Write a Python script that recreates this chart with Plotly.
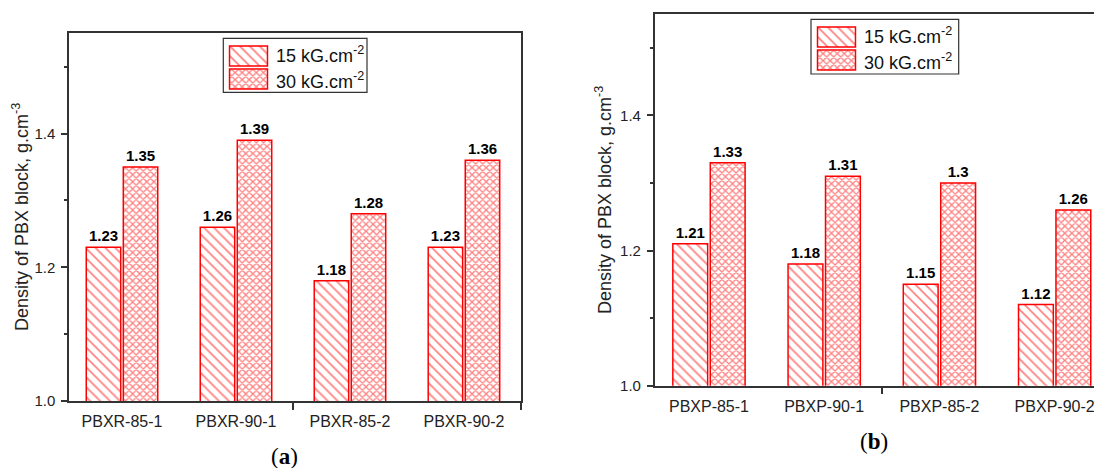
import plotly.graph_objects as go

# ---------------- data ----------------
categories_a = ["PBXR-85-1", "PBXR-90-1", "PBXR-85-2", "PBXR-90-2"]
density_15_a = [1.23, 1.26, 1.18, 1.23]
density_30_a = [1.35, 1.39, 1.28, 1.36]

categories_b = ["PBXP-85-1", "PBXP-90-1", "PBXP-85-2", "PBXP-90-2"]
density_15_b = [1.21, 1.18, 1.15, 1.12]
density_30_b = [1.33, 1.31, 1.30, 1.26]

series_names = ["15 kG.cm<sup>-2</sup>", "30 kG.cm<sup>-2</sup>"]
y_tick_values = [1.0, 1.2, 1.4]
y_title = "Density of PBX block, g.cm<sup>-3</sup>"
panel_captions = ["(<b>a</b>)", "(<b>b</b>)"]

# ---------------- styling ----------------
PAGE_OFF = 8                     # default page margin of the html body
W, H = 1102 - PAGE_OFF, 468 - PAGE_OFF
RED = "#FF0000"
AX = "#333333"
TXT = "#222222"
SANS = "Liberation Sans, Arial, sans-serif"
SERIF = "Liberation Serif, Times New Roman, serif"
patterns = [dict(shape="\\", size=7, solidity=0.24, fgcolor=RED, bgcolor="white"),
            dict(shape="x", size=5, solidity=0.45, fgcolor=RED, bgcolor="white")]


def px_x(x):
    return min(1.0, (x - PAGE_OFF) / W)


def px_y(y):
    return 1 - (y - PAGE_OFF) / H


fig = go.Figure()

panels = [
    dict(cats=categories_a, vals=[density_15_a, density_30_a], xa="x", ya="y"),
    dict(cats=categories_b, vals=[density_15_b, density_30_b], xa="x2", ya="y2"),
]

for p in panels:
    pos = list(range(1, len(p["cats"]) + 1))
    for s, vals in enumerate(p["vals"]):
        fig.add_trace(go.Bar(
            x=pos, y=vals, name=series_names[s], showlegend=False,
            xaxis=p["xa"], yaxis=p["ya"],
            marker=dict(color="white", line=dict(color=RED, width=1.5),
                        pattern=patterns[s]),
            texttemplate="%{y:.2~f}", textposition="outside", cliponaxis=False,
            constraintext="none",
            textfont=dict(family=SANS, size=15, color="black", weight="bold"),
        ))

# legend swatches (drawn as bars on small auxiliary axes)
n_ser = len(series_names)
for xa, ya in [("x3", "y3"), ("x4", "y4")]:
    fig.add_trace(go.Bar(
        x=[1] * n_ser, y=list(range(n_ser)), orientation="h", width=0.86,
        xaxis=xa, yaxis=ya, showlegend=False, hoverinfo="skip",
        marker=dict(color="white", line=dict(color=RED, width=1.5),
                    pattern=dict(shape=[pt["shape"] for pt in patterns],
                                 size=[pt["size"] for pt in patterns],
                                 solidity=[pt["solidity"] for pt in patterns],
                                 fgcolor=RED, bgcolor="white")),
    ))

common_y = dict(
    range=[1.0, 1.55], tickmode="array", tickvals=y_tick_values, tickformat=".1f",
    ticks="outside", ticklen=6, tickwidth=1.5, tickcolor=AX,
    minor=dict(ticks="outside", ticklen=3, tickwidth=1.5, tickcolor=AX,
               tick0=1.0, dtick=0.1),
    showline=True, linecolor=AX, linewidth=1.5, showgrid=False, zeroline=False,
    tickfont=dict(family=SANS, size=15, color=TXT), ticklabelstandoff=3,
    automargin=False,
)


def common_x(cats, rng):
    return dict(
        range=rng, tickmode="array", tickvals=list(range(1, len(cats) + 1)),
        ticktext=cats, ticks="outside", ticklen=5, tickcolor="rgba(0,0,0,0)",
        minor=dict(ticks="outside", ticklen=7, tickwidth=1.5, tickcolor=AX,
                   tick0=0.5, dtick=2),
        showline=True, linecolor=AX, linewidth=1.5, mirror=True,
        showgrid=False, zeroline=False, automargin=False,
        tickfont=dict(family=SANS, size=16, color=TXT),
    )


aux_common = dict(visible=False, fixedrange=True, automargin=False,
                  showticklabels=False, ticks="", showgrid=False, zeroline=False,
                  showline=False)
aux_x = dict(range=[-0.04, 1.04], **aux_common)
aux_y = dict(range=[1.5, -0.5], **aux_common)

fig.update_layout(
    width=W, height=H, margin=dict(l=0, r=0, t=0, b=0, pad=0, autoexpand=False),
    paper_bgcolor="white", plot_bgcolor="white",
    barmode="group", bargap=0.35, bargroupgap=0.07,
    showlegend=False,
    xaxis=dict(domain=[px_x(69), px_x(521)], anchor="y",
               **common_x(categories_a, [0.535, 4.5005])),
    yaxis=dict(domain=[px_y(401), px_y(33.3)], anchor="x", mirror=True, **common_y),
    xaxis2=dict(domain=[px_x(654.7), 1.0], anchor="y2",
                **common_x(categories_b, [0.529, 4.411])),
    yaxis2=dict(domain=[px_y(385.7), px_y(14)], anchor="x2", mirror=False, **common_y),
    xaxis3=dict(domain=[px_x(228), px_x(269)], anchor="y3", **aux_x),
    yaxis3=dict(domain=[px_y(90.7), px_y(44.3)], anchor="x3", **aux_y),
    xaxis4=dict(domain=[px_x(816), px_x(857)], anchor="y4", **aux_x),
    yaxis4=dict(domain=[px_y(71.7), px_y(25.3)], anchor="x4", **aux_y),
)

# legend frames
for (x0, x1, y0, y1) in [(223.3, 367, 38.3, 92.3), (811, 958.7, 19.3, 74)]:
    fig.add_shape(type="rect", xref="paper", yref="paper",
                  x0=px_x(x0), x1=px_x(x1), y0=px_y(y1), y1=px_y(y0),
                  line=dict(color=AX, width=1.2), fillcolor="rgba(0,0,0,0)", layer="below")

# legend labels
for xl, ys in [(274, (54.5, 80.7)), (862, (35.5, 61.7))]:
    for name, yy in zip(series_names, ys):
        fig.add_annotation(text=name, xref="paper", yref="paper",
                           x=px_x(xl), y=px_y(yy), xanchor="left", yanchor="middle",
                           showarrow=False, font=dict(family=SANS, size=18, color="#111111"))

# y-axis titles
for xc, yc in [(21, 217), (603, 200)]:
    fig.add_annotation(text=y_title, xref="paper", yref="paper",
                       x=px_x(xc), y=px_y(yc), xanchor="center", yanchor="middle",
                       textangle=-90, showarrow=False,
                       font=dict(family=SANS, size=18, color=TXT))

# panel captions
for cap, xc, yc in zip(panel_captions, (285, 874), (456, 441)):
    fig.add_annotation(text=cap, xref="paper", yref="paper",
                       x=px_x(xc), y=px_y(yc), xanchor="center", yanchor="middle",
                       showarrow=False, font=dict(family=SERIF, size=23, color="black"))

fig.write_html("out.html")
